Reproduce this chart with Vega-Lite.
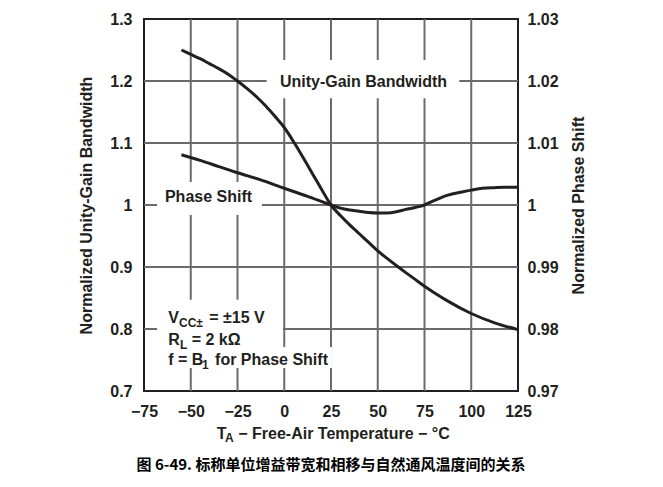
{
  "$schema": "https://vega.github.io/schema/vega-lite/v6.json",
  "width": 374,
  "height": 372,
  "autosize": {"type": "none"},
  "padding": {"left": 144, "top": 19, "right": 145, "bottom": 96},
  "background": "white",
  "datasets": {
    "unity": [
      {"T": -55, "v": 1.25}, {"T": -50, "v": 1.243}, {"T": -45, "v": 1.236}, {"T": -40, "v": 1.228},
      {"T": -35, "v": 1.22}, {"T": -30, "v": 1.211}, {"T": -25, "v": 1.2}, {"T": -20, "v": 1.188},
      {"T": -15, "v": 1.175}, {"T": -10, "v": 1.16}, {"T": -5, "v": 1.143}, {"T": 0, "v": 1.125},
      {"T": 5, "v": 1.102}, {"T": 10, "v": 1.077}, {"T": 15, "v": 1.051}, {"T": 20, "v": 1.025},
      {"T": 25, "v": 1.0}, {"T": 30, "v": 0.983}, {"T": 35, "v": 0.968}, {"T": 40, "v": 0.954},
      {"T": 45, "v": 0.94}, {"T": 50, "v": 0.926}, {"T": 55, "v": 0.914}, {"T": 61, "v": 0.9},
      {"T": 65, "v": 0.891}, {"T": 70, "v": 0.88}, {"T": 75, "v": 0.869}, {"T": 80, "v": 0.859},
      {"T": 87.5, "v": 0.845}, {"T": 100, "v": 0.825}, {"T": 112.5, "v": 0.81}, {"T": 125, "v": 0.799}
    ],
    "phase": [
      {"T": -55, "p": 1.0081}, {"T": -45, "p": 1.0072}, {"T": -35, "p": 1.0062}, {"T": -25, "p": 1.0052},
      {"T": -13, "p": 1.0041}, {"T": 0, "p": 1.0027}, {"T": 12.5, "p": 1.0014}, {"T": 25, "p": 1.0},
      {"T": 30, "p": 0.9995}, {"T": 35, "p": 0.9992}, {"T": 40, "p": 0.999}, {"T": 45, "p": 0.99878},
      {"T": 50, "p": 0.9987}, {"T": 55, "p": 0.9987}, {"T": 60, "p": 0.9989}, {"T": 65, "p": 0.9993},
      {"T": 70, "p": 0.9996}, {"T": 75, "p": 1.0}, {"T": 80, "p": 1.0007}, {"T": 87.5, "p": 1.0016},
      {"T": 95, "p": 1.0021}, {"T": 100, "p": 1.0024}, {"T": 106, "p": 1.0027}, {"T": 112.5, "p": 1.0028},
      {"T": 118, "p": 1.00285}, {"T": 125, "p": 1.00285}
    ],
    "vgrid": [{"T": -50}, {"T": -25}, {"T": 0}, {"T": 25}, {"T": 50}, {"T": 75}, {"T": 100}],
    "hgrid": [{"v": 0.8}, {"v": 0.9}, {"v": 1.0}, {"v": 1.1}, {"v": 1.2}],
    "boxes": [
      {"T": -9.4, "T2": 93.6, "v": 1.172, "v2": 1.234},
      {"T": -68, "T2": -11.9, "v": 0.984, "v2": 1.037},
      {"T": -68, "T2": -0.7, "v": 0.737, "v2": 0.847},
      {"T": -68, "T2": 25.5, "v": 0.737, "v2": 0.771}
    ],
    "text16": [
      {"T": -2.3, "v": 1.199, "text": "Unity-Gain Bandwidth"},
      {"T": -63.8, "v": 1.0134, "text": "Phase Shift"},
      {"T": -62.0, "v": 0.817, "text": "V"},
      {"T": -40.1, "v": 0.817, "text": "= ±15 V"},
      {"T": -62.0, "v": 0.782, "text": "R"},
      {"T": -49.5, "v": 0.782, "text": "= 2 kΩ"},
      {"T": -62.0, "v": 0.75, "text": "f = B"},
      {"T": -37.0, "v": 0.75, "text": "for Phase Shift"},
      {"T": -36.1, "v": 0.6306, "text": "T"},
      {"T": -24.6, "v": 0.6306, "text": "− Free-Air Temperature − °C"}
    ],
    "subs": [
      {"T": -56.3, "v": 0.8097, "text": "CC±"},
      {"T": -55.8, "v": 0.774, "text": "L"},
      {"T": -44.0, "v": 0.742, "text": "1"},
      {"T": -31.7, "v": 0.6242, "text": "A"}
    ],
    "caption": [
      {"T": 25, "v": 0.5806, "text": "图 6-49. 标称单位增益带宽和相移与自然通风温度间的关系"}
    ]
  },
  "layer": [
    {
      "layer": [
        {
          "data": {"name": "vgrid"},
          "mark": {"type": "rule", "stroke": "#6e6a6b", "strokeWidth": 2},
          "encoding": {
            "x": {"field": "T", "type": "quantitative",
              "scale": {"domain": [-75, 125], "nice": false, "zero": false},
              "axis": {"values": [-75, -50, -25, 0, 25, 50, 75, 100, 125], "format": "d", "title": null,
                "grid": false, "labelPadding": 12}},
            "y": {"datum": 0.7, "type": "quantitative"},
            "y2": {"datum": 1.3}
          }
        },
        {
          "data": {"name": "hgrid"},
          "mark": {"type": "rule", "stroke": "#6e6a6b", "strokeWidth": 2},
          "encoding": {
            "y": {"field": "v", "type": "quantitative",
              "scale": {"domain": [0.7, 1.3], "nice": false, "zero": false},
              "axis": {"values": [0.7, 0.8, 0.9, 1.0, 1.1, 1.2, 1.3], "format": "~f",
                "title": "Normalized Unity-Gain Bandwidth", "grid": false, "labelPadding": 12, "titlePadding": 15}},
            "x": {"datum": -75, "type": "quantitative"},
            "x2": {"datum": 125}
          }
        },
        {
          "data": {"name": "boxes"},
          "mark": {"type": "rect", "fill": "white"},
          "encoding": {
            "x": {"field": "T", "type": "quantitative"},
            "x2": {"field": "T2"},
            "y": {"field": "v", "type": "quantitative"},
            "y2": {"field": "v2"}
          }
        },
        {
          "data": {"name": "unity"},
          "mark": {"type": "line", "color": "#231f20", "strokeWidth": 3, "interpolate": "monotone"},
          "encoding": {
            "x": {"field": "T", "type": "quantitative"},
            "y": {"field": "v", "type": "quantitative"}
          }
        },
        {
          "data": {"name": "text16"},
          "mark": {"type": "text", "align": "left", "baseline": "middle", "font": "Liberation Sans",
            "fontWeight": "bold", "fontSize": 16, "color": "#231f20"},
          "encoding": {
            "x": {"field": "T", "type": "quantitative"},
            "y": {"field": "v", "type": "quantitative"},
            "text": {"field": "text"}
          }
        },
        {
          "data": {"name": "subs"},
          "mark": {"type": "text", "align": "left", "baseline": "middle", "font": "Liberation Sans",
            "fontWeight": "bold", "fontSize": 12, "color": "#231f20"},
          "encoding": {
            "x": {"field": "T", "type": "quantitative"},
            "y": {"field": "v", "type": "quantitative"},
            "text": {"field": "text"}
          }
        },
        {
          "data": {"name": "caption"},
          "mark": {"type": "text", "align": "center", "baseline": "middle", "font": "Noto Sans CJK SC",
            "fontWeight": "bold", "fontSize": 15, "color": "#000000"},
          "encoding": {
            "x": {"field": "T", "type": "quantitative"},
            "y": {"field": "v", "type": "quantitative"},
            "text": {"field": "text"}
          }
        }
      ]
    },
    {
      "data": {"name": "phase"},
      "mark": {"type": "line", "color": "#231f20", "strokeWidth": 3, "interpolate": "monotone"},
      "encoding": {
        "x": {"field": "T", "type": "quantitative"},
        "y": {"field": "p", "type": "quantitative",
          "scale": {"domain": [0.97, 1.03], "nice": false, "zero": false},
          "axis": {"orient": "right", "values": [0.97, 0.98, 0.99, 1.0, 1.01, 1.02, 1.03], "format": "~f",
            "title": "Normalized Phase Shift", "grid": false, "labelPadding": 9,
            "titleAngle": 270, "titleBaseline": "top", "titlePadding": 12}}
      }
    }
  ],
  "resolve": {"scale": {"y": "independent"}},
  "config": {
    "view": {"stroke": "#231f20", "strokeWidth": 2},
    "axis": {
      "domain": false, "ticks": false, "grid": false,
      "labelFont": "Liberation Sans", "labelFontWeight": "bold", "labelFontSize": 16, "labelColor": "#231f20",
      "titleFont": "Liberation Sans", "titleFontWeight": "bold", "titleFontSize": 16, "titleColor": "#231f20",
      "labelOverlap": false, "labelBound": false, "labelFlush": false
    }
  }
}
